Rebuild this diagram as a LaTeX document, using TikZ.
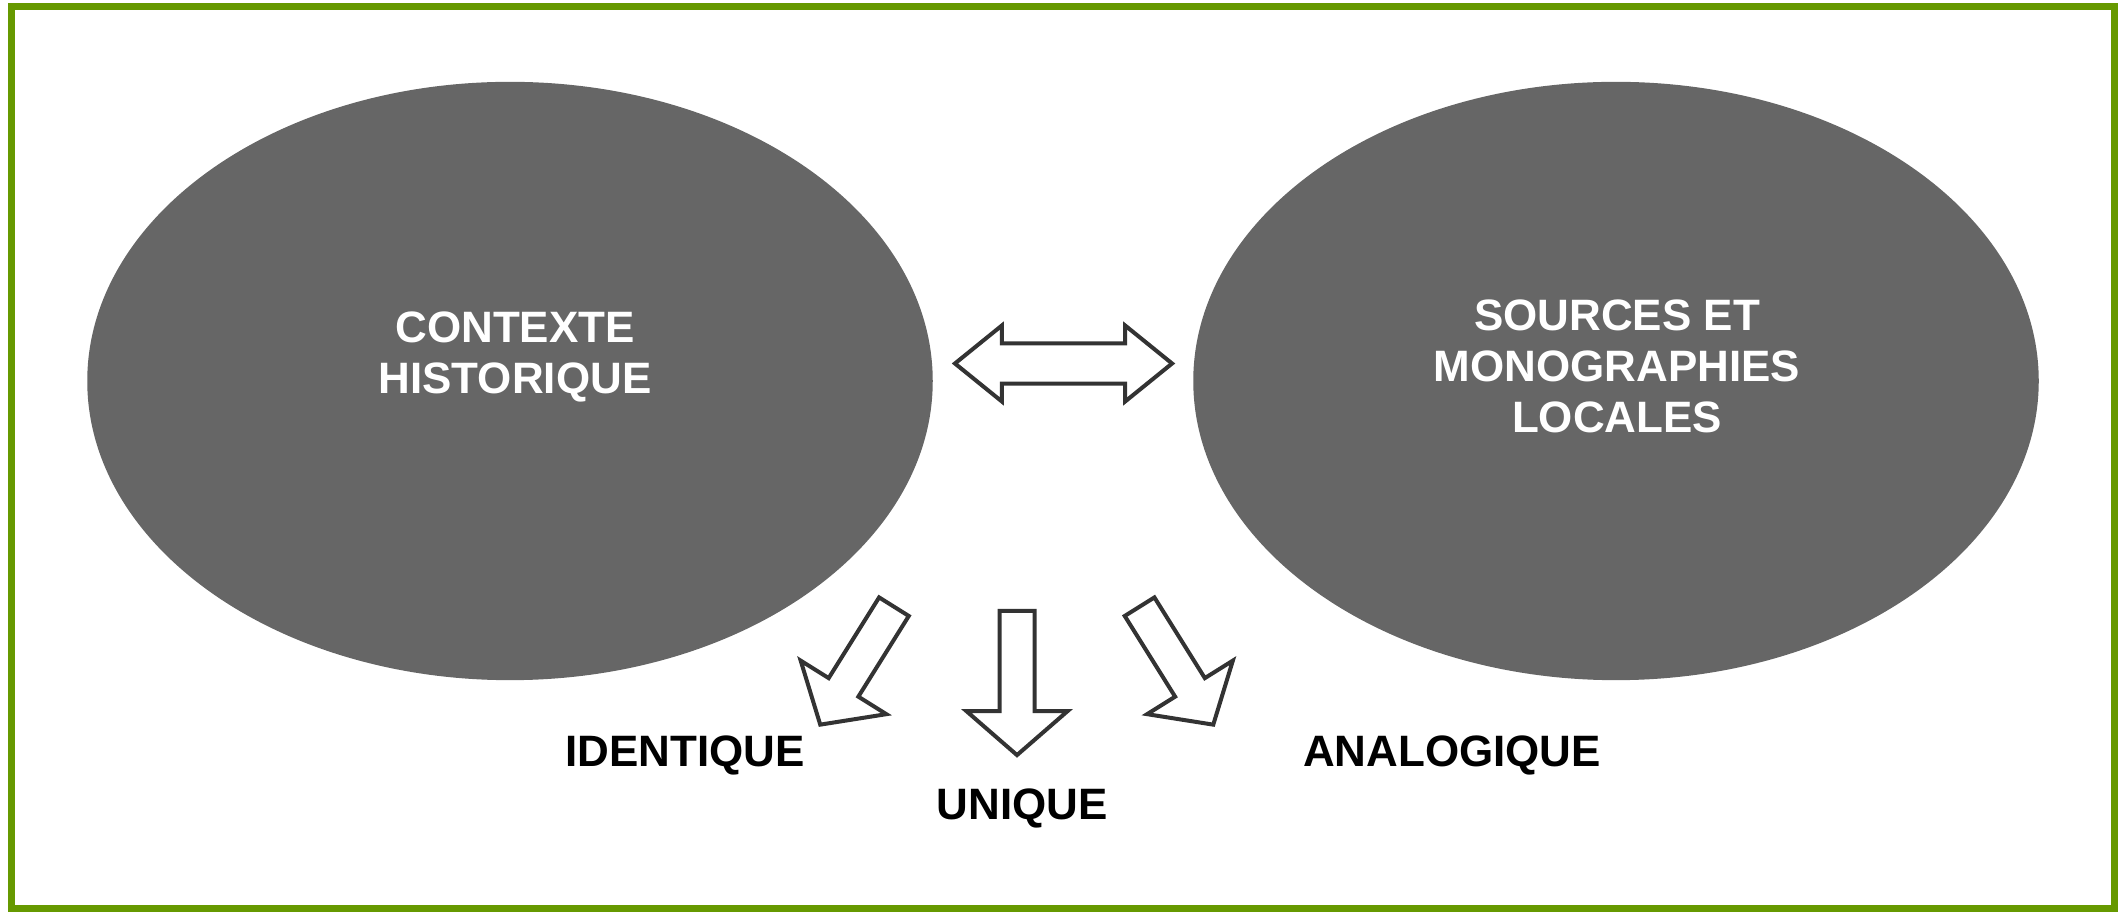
\documentclass[tikz,border=0pt]{standalone}
\usepackage{fontspec}
\setmainfont{Liberation Sans}
\usetikzlibrary{positioning, shapes.geometric, shapes.arrows}
\definecolor{frameCol}{RGB}{102,153,0}
\definecolor{ovalCol}{RGB}{102,102,102}
\definecolor{arrowCol}{RGB}{51,51,51}
\tikzset{myFrame/.style={draw=frameCol, line width=0.07cm}}
\tikzset{myOval/.style={ellipse, fill=ovalCol, minimum width=8.45cm, minimum height=5.98cm, inner sep=0pt}}
\tikzset{myOvalText/.style={text=white, align=center, anchor=north, inner sep=0pt, font=\bfseries\fontsize{12.5}{14.5}\selectfont}}
\tikzset{myLabel/.style={anchor=base, inner sep=0pt, font=\bfseries\fontsize{12.5}{15}\selectfont}}
\tikzset{myBlockArrow/.style={single arrow, draw=arrowCol, fill=white, line width=0.04cm, inner xsep=0pt, inner ysep=0.155cm, single arrow head extend=0.33cm, single arrow tip angle=98, anchor=tail}}
\tikzset{myBothArrow/.style={double arrow, draw=arrowCol, fill=white, line width=0.04cm, inner xsep=0pt, inner ysep=0.18cm, double arrow head extend=0.18cm, double arrow tip angle=78, minimum height=2.17cm}}

\begin{document}
\begin{tikzpicture}[x=0.01cm, y=-0.01cm]

	\useasboundingbox (0,0) rectangle (2121,913);
	\draw[myFrame] (11.5,6.5) rectangle (2114.5,908.5);

	\node[myOval] (hist) at (510,381) {};
	\node[myOval] (src) at (1616,381) {};
	\node[myOvalText] (histTxt) at (515,311) {CONTEXTE\\HISTORIQUE};
	\node[myOvalText] (srcTxt) at (1617,299) {SOURCES ET\\MONOGRAPHIES\\LOCALES};

	\node[myBothArrow] (link) at (1063.5,363.5) {};

	\foreach \nm/\x/\y/\ang/\len in {toIdent/895/605/238/1.39, toUniq/1017/609/270/1.44, toAnalog/1138.5/605/302/1.39}{
		\node[myBlockArrow, rotate=\ang, minimum height=\len cm] (\nm) at (\x,\y) {};
	}
	\foreach \nm/\txt/\x/\y in {ident/IDENTIQUE/685/767, uniq/UNIQUE/1022/820, analog/ANALOGIQUE/1452/767}{
		\node[myLabel] (\nm) at (\x,\y) {\txt};
	}
\end{tikzpicture}
\end{document}
